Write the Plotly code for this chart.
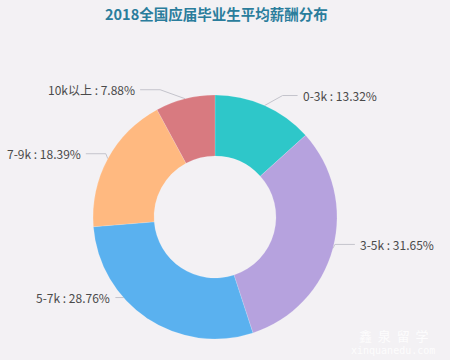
import math
import plotly.graph_objects as go

# ---- data ----
categories = ["0-3k", "3-5k", "5-7k", "7-9k", "10k以上"]
shares = [13.32, 31.65, 28.76, 18.39, 7.88]
title_text = "2018全国应届毕业生平均薪酬分布"

# ---- styles / layout ----
colors = ["#2ec7c9", "#b6a2de", "#5ab1ef", "#ffb980", "#d87a80"]
W, H = 450, 360
CX, CY, R = 215, 217, 122          # pie centre and outer radius in pixels
HOLE = 0.5
BG = "#f3f1f4"
# label leader-line elbow offsets (px, relative to slice edge) and horizontal run
label_nudge = [(18, -10, 15), (2, -4, 20), (-17, -21, 15), (-2, -5, 20), (-25, -9, 20)]

fig = go.Figure()

fig.add_trace(go.Pie(
    labels=categories, values=shares, hole=HOLE, sort=False,
    direction="clockwise", rotation=0, textinfo="none",
    marker=dict(colors=colors, line=dict(color="rgba(255,255,255,0.3)", width=0.5)),
    domain=dict(x=[(CX - R) / W, (CX + R) / W], y=[(H - CY - R) / H, (H - CY + R) / H]),
    showlegend=False, hoverinfo="label+percent",
))

# leader lines + labels computed from slice mid-angles
total = sum(shares)
cum = 0.0
annotations = []
for cat, v, col, (dx, dy, run) in zip(categories, shares, colors, label_nudge):
    mid = (cum + v / 2) / total * 2 * math.pi
    cum += v
    ex, ey = CX + R * math.sin(mid), CY - R * math.cos(mid)
    bx, by = ex + dx, ey + dy
    side = 1 if math.sin(mid) >= 0 else -1
    tx = bx + side * run
    fig.add_trace(go.Scatter(
        x=[ex, bx, tx], y=[ey, by, by], mode="lines",
        line=dict(color="#c4c4cc", width=1), hoverinfo="skip", showlegend=False,
    ))
    annotations.append(dict(
        x=tx + side * 3, y=by, xref="x", yref="y", showarrow=False,
        text=f"{cat} : {v:.2f}%", xanchor="left" if side > 0 else "right",
        yanchor="middle", font=dict(size=12, color="#4a4a4a",
                                    family="Noto Sans CJK SC, sans-serif"),
    ))

annotations.append(dict(
    x=216, y=13, xref="x", yref="y", showarrow=False, text=f"<b>{title_text}</b>",
    xanchor="center", yanchor="middle",
    font=dict(size=14.5, color="#2a7d9c", family="Noto Sans CJK SC, sans-serif"),
))
# faint watermark
annotations.append(dict(
    x=393, y=335, xref="x", yref="y", showarrow=False, text="鑫  泉  留  学",
    xanchor="center", yanchor="middle",
    font=dict(size=13, color="rgba(255,255,255,0.85)", family="Noto Sans CJK SC"),
))
annotations.append(dict(
    x=393, y=350, xref="x", yref="y", showarrow=False, text="xinquanedu.com",
    xanchor="center", yanchor="middle",
    font=dict(size=10, color="rgba(255,255,255,0.85)", family="DejaVu Sans Mono"),
))

fig.update_layout(
    width=W, height=H, margin=dict(l=0, r=0, t=0, b=0),
    paper_bgcolor=BG, plot_bgcolor="rgba(0,0,0,0)",
    xaxis=dict(range=[0, W], visible=False, fixedrange=True),
    yaxis=dict(range=[H, 0], visible=False, fixedrange=True),
    annotations=annotations,
)

fig.write_html("out.html", config={"displayModeBar": False},
               post_script="document.body.style.margin='0';document.body.style.background='%s';" % BG)
